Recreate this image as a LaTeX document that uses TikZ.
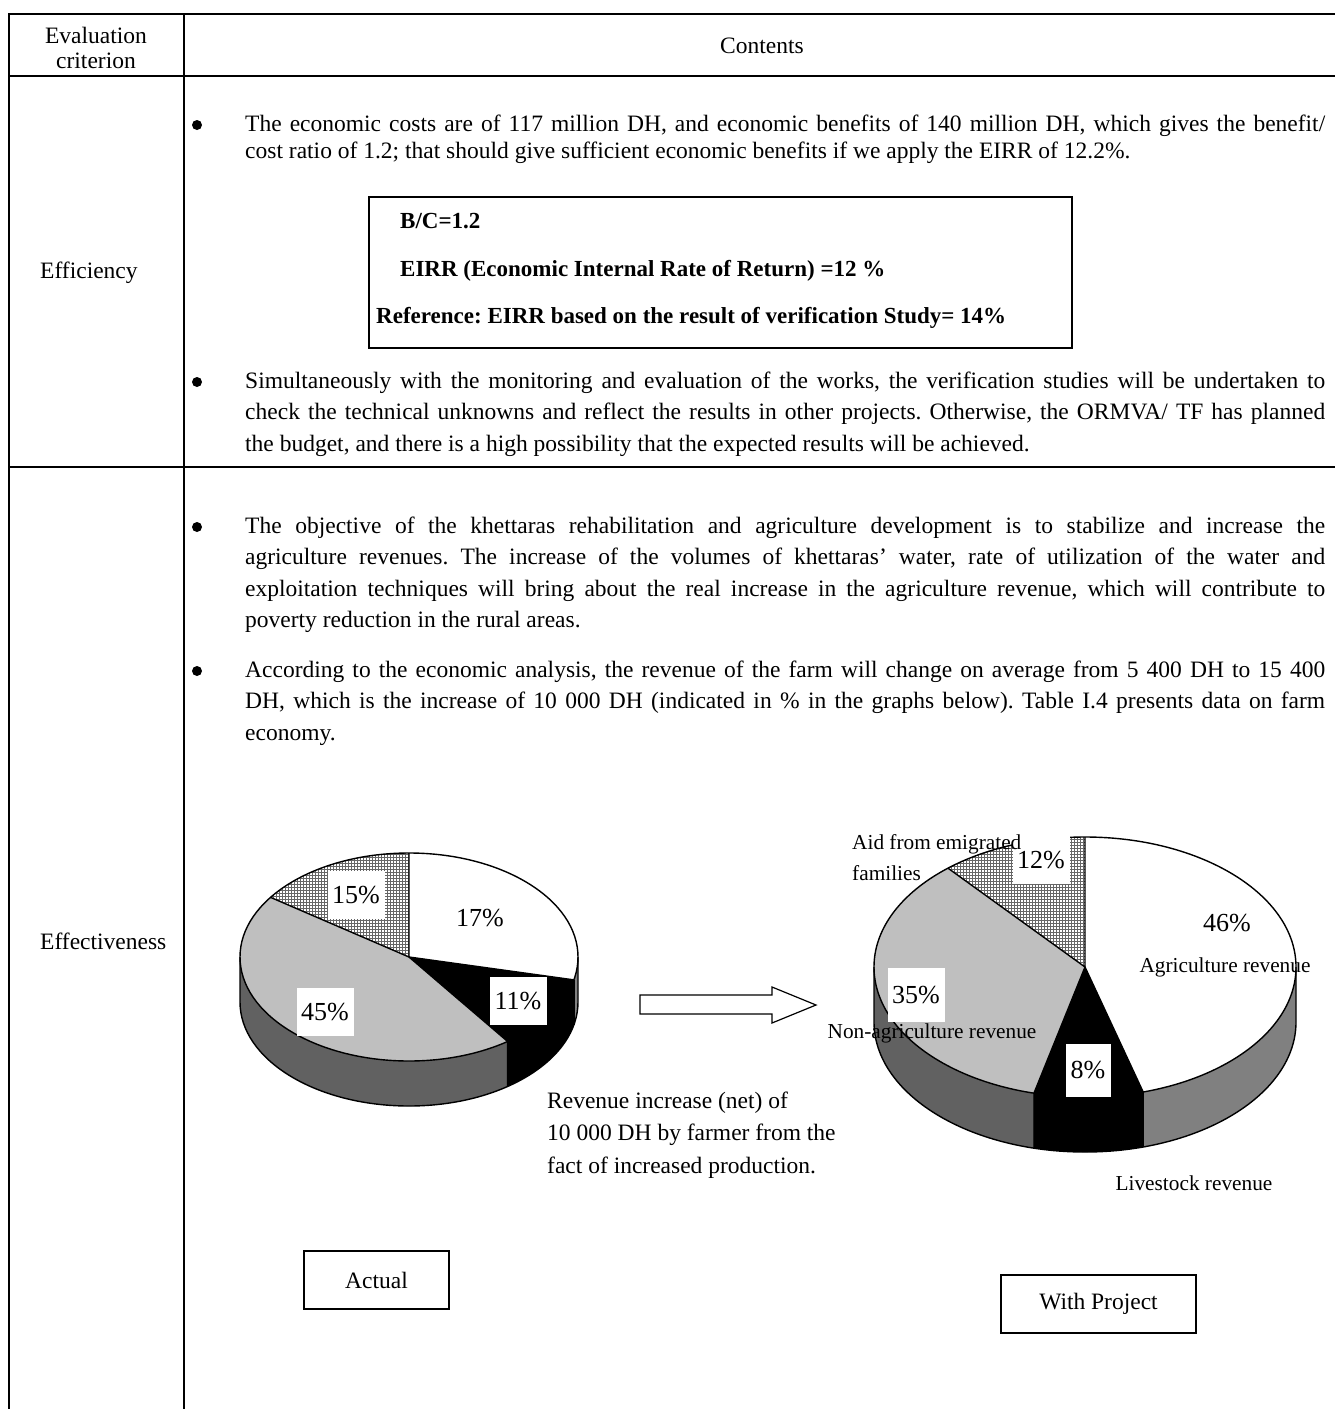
\documentclass[tikz,border=0pt]{standalone}
\usepackage{fontspec}
\setmainfont{Liberation Serif}
\usepackage{tikz}
\usetikzlibrary{shapes,arrows,positioning,patterns}
\frenchspacing

\definecolor{pielight}{gray}{0.75}
\definecolor{piedark}{gray}{0.38}
\definecolor{sidegray}{gray}{0.5}

\newcommand{\bodyfont}{\fontsize{23.5}{31.5}\selectfont}
\newcommand{\jline}[1]{\hbox to 1080pt{#1}}
\newcommand{\nline}[1]{\hbox{#1}}
% sector of the top face: style, start, end, x radius, y radius
\newcommand{\piesector}[5]{\fill[#1] (0,0) -- (#2:#4 and #5) arc[start angle=#2, end angle=#3, x radius=#4, y radius=#5] -- cycle;}
% front wall: style, start, end, x radius, y radius, depth
\newcommand{\piewall}[6]{\fill[#1] (#2:#4 and #5) arc[start angle=#2, end angle=#3, x radius=#4, y radius=#5] -- ++(0,-#6) arc[start angle=#3, end angle=#2, x radius=#4, y radius=#5] -- cycle;}

\begin{document}
\begin{tikzpicture}[x=1pt,y=-1pt,
		rule/.style={line width=2pt},
		pieline/.style={line width=1.4pt, line join=round},
		pct/.style={fill=white, inner sep=0pt, minimum width=57pt, minimum height=48pt, font=\fontsize{26}{26}\selectfont},
		pctfree/.style={inner sep=0pt, font=\fontsize{26}{26}\selectfont},
		tag/.style={inner sep=0pt, font=\fontsize{21.3}{31}\selectfont},
		bul/.style={circle, fill=black, inner sep=0pt, minimum size=10pt},
		boxtext/.style={anchor=base west, inner sep=0pt, font=\fontsize{23}{27}\selectfont\bfseries},
		labelbox/.style={draw, line width=1.6pt, inner sep=0pt, minimum height=58pt, font=\bodyfont}]
	\useasboundingbox (0,0) rectangle (1335,1409);

	% table rules
	\draw[rule] (9,14) -- (1340,14);
	\draw[rule] (9,76) -- (1340,76);
	\draw[rule] (9,467) -- (1340,467);
	\draw[rule] (9,13) -- (9,1412);
	\draw[rule] (184,13) -- (184,1412);

	% header
	\node[align=center, inner sep=0pt, font=\fontsize{23.5}{25.5}\selectfont] (crit) at (96,48) {Evaluation\\criterion};
	\node[inner sep=0pt, font=\bodyfont] (cont) at (762,46) {Contents};

	% efficiency row
	\node[anchor=base west, inner sep=0pt, font=\bodyfont] (eff) at (40,278) {Efficiency};
	\node[bul] (b1) at (197,125) {};
	\node[anchor=base west, inner sep=0pt] (p1) at (245,131) {\vtop{\fontsize{23.5}{27}\selectfont
		\jline{The economic costs are of 117 million DH, and economic benefits of 140 million DH, which gives the benefit/}
		\nline{cost ratio of 1.2; that should give sufficient economic benefits if we apply the EIRR of 12.2\%.}}};
	\node[draw, line width=1.5pt, minimum width=703pt, minimum height=151pt] (bc) at (720.5,272.5) {};
	\node[boxtext] (bcr) at (400,228) {B/C=1.2};
	\node[boxtext] (eirr) at (400,276) {EIRR (Economic Internal Rate of Return) =12 \%};
	\node[boxtext] (refr) at (376,323) {Reference: EIRR based on the result of verification Study= 14\%};
	\node[bul] (b2) at (197,382) {};
	\node[anchor=base west, inner sep=0pt] (p2) at (245,388) {\vtop{\bodyfont
		\jline{Simultaneously with the monitoring and evaluation of the works, the verification studies will be undertaken to}
		\jline{check the technical unknowns and reflect the results in other projects. Otherwise, the ORMVA/ TF has planned}
		\nline{the budget, and there is a high possibility that the expected results will be achieved.}}};

	% effectiveness row
	\node[anchor=base west, inner sep=0pt, font=\bodyfont] (effv) at (40,949) {Effectiveness};
	\node[bul] (b3) at (197,527) {};
	\node[anchor=base west, inner sep=0pt] (p3) at (245,533) {\vtop{\bodyfont
		\jline{The objective of the khettaras rehabilitation and agriculture development is to stabilize and increase the}
		\jline{agriculture revenues. The increase of the volumes of khettaras' water, rate of utilization of the water and}
		\jline{exploitation techniques will bring about the real increase in the agriculture revenue, which will contribute to}
		\nline{poverty reduction in the rural areas.}}};
	\node[bul] (b4) at (197,671) {};
	\node[anchor=base west, inner sep=0pt] (p4) at (245,677) {\vtop{\bodyfont
		\jline{According to the economic analysis, the revenue of the farm will change on average from 5 400 DH to 15 400}
		\jline{DH, which is the increase of 10 000 DH (indicated in \% in the graphs below). Table I.4 presents data on farm}
		\nline{economy.}}};

	% actual pie
	\begin{scope}[shift={(409,957)}, yscale=-1]
		\piewall{piedark}{-180}{-54.3}{169}{104}{45}
		\piewall{black}{-54.3}{-12.7}{169}{104}{45}
		\piewall{sidegray}{-12.7}{0}{169}{104}{45}
		\piesector{white}{-12.7}{90}{169}{104}
		\piesector{black}{-54.3}{-12.7}{169}{104}
		\piesector{pielight}{145}{305.7}{169}{104}
		\piesector{white}{90}{145}{169}{104}
		\piesector{pattern=grid, pattern color=black!60}{90}{145}{169}{104}
		\draw[pieline] (0,0) ellipse[x radius=169, y radius=104];
		\draw[pieline] (-180:169 and 104) -- ++(0,-45) arc[start angle=-180, end angle=0, x radius=169, y radius=104] -- ++(0,45);
		\draw[pieline] (90:169 and 104) -- (0,0) -- (-12.7:169 and 104);
		\draw[pieline] (145:169 and 104) -- (0,0) -- (-54.3:169 and 104) -- ++(0,-45);
		\draw[pieline] (-12.7:169 and 104) -- ++(0,-45);
	\end{scope}
	\node[pct] (a15) at (356,895) {15\%};
	\node[pctfree] (a17) at (480,918) {17\%};
	\node[pct] (a11) at (518,1001) {11\%};
	\node[pct] (a45) at (325,1012) {45\%};

	% block arrow
	\draw[line width=1.2pt, fill=white, line join=miter] (640,995) -- (772,995) -- (772,987) -- (816,1005) -- (772,1023) -- (772,1014) -- (640,1014) -- cycle;

	% with project pie
	\begin{scope}[shift={(1085,967)}, yscale=-1]
		\piewall{piedark}{-180}{-104}{211}{130}{55}
		\piewall{black}{-104}{-74}{211}{130}{55}
		\piewall{sidegray}{-74}{0}{211}{130}{55}
		\piesector{white}{-74}{90}{211}{130}
		\piesector{black}{-104}{-74}{211}{130}
		\piesector{pielight}{130.5}{256}{211}{130}
		\piesector{white}{90}{130.5}{211}{130}
		\piesector{pattern=grid, pattern color=black!60}{90}{130.5}{211}{130}
		\draw[pieline] (0,0) ellipse[x radius=211, y radius=130];
		\draw[pieline] (-180:211 and 130) -- ++(0,-55) arc[start angle=-180, end angle=0, x radius=211, y radius=130] -- ++(0,55);
		\draw[pieline] (90:211 and 130) -- (0,0) -- (-74:211 and 130) -- ++(0,-55);
		\draw[pieline] (130.5:211 and 130) -- (0,0) -- (-104:211 and 130) -- ++(0,-55);
	\end{scope}
	\node[pct] (w12) at (1041,860) {12\%};
	\node[pctfree] (w46) at (1227,923) {46\%};
	\node[pct, minimum height=54pt] (w35) at (916,995) {35\%};
	\node[pct, minimum width=45pt, minimum height=53pt] (w8) at (1088,1070) {8\%};
	\node[tag] (agr) at (1225,967) {Agriculture revenue};
	\node[tag] (nagr) at (932,1033) {Non-agriculture revenue};
	\node[tag] (live) at (1194,1183) {Livestock revenue};
	\node[tag, anchor=base west, align=left] (aid) at (852,880) {Aid from emigrated\\families};

	% notes
	\node[anchor=base west, inner sep=0pt] (gain) at (547,1108) {\vtop{\fontsize{23.5}{32.5}\selectfont
		\nline{Revenue increase (net) of}
		\nline{10 000 DH by farmer from the}
		\nline{fact of increased production.}}};
	\node[labelbox, minimum width=145pt] (act) at (376.5,1280) {Actual};
	\node[labelbox, minimum width=195pt] (proj) at (1098.5,1304) {With Project};
\end{tikzpicture}
\end{document}
